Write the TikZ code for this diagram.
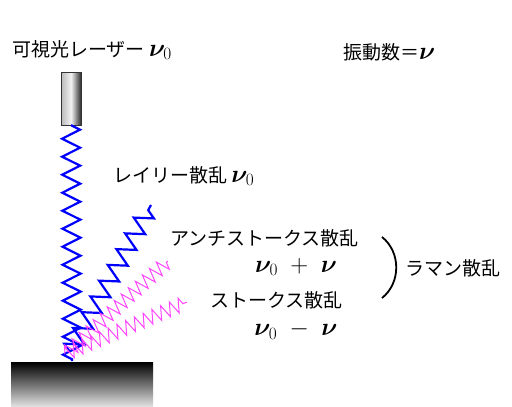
\documentclass[tikz,border=0pt]{standalone}
\usepackage{fontspec}
\usepackage{bm}
\setmainfont{Noto Sans CJK JP}
\usetikzlibrary{decorations.pathmorphing}
\definecolor{ramanpink}{RGB}{255,70,255}
\newcommand{\nufreq}[1]{{\fontsize{23}{26}\selectfont$#1$}}
\tikzset{
  txt/.style={font=\fontsize{19}{22}\selectfont,inner sep=0pt},
  bluewave/.style={blue,line width=2.2pt,decorate,
    decoration={zigzag,segment length=18pt,amplitude=9pt}},
  pinkwave/.style={ramanpink,line width=1pt,decorate,
    decoration={zigzag,segment length=9.5pt,amplitude=7pt}},
}
\begin{document}
\begin{tikzpicture}[x=1pt,y=-1pt]
        \useasboundingbox (0,0) rectangle (512,407);
        %% laser and sample
        \node[txt,anchor=west] (laser) at (12,50) {可視光レーザー \nufreq{\bm{\nu}_0}};
        \node[txt,anchor=west] (freq) at (343,52) {振動数＝\nufreq{\bm{\nu}}};
        \node[draw=gray!40!black,left color=gray!55,right color=gray!35!black,middle color=white!90!gray,
              minimum width=20pt,minimum height=53pt,inner sep=0pt] (rod) at (71,98.5) {};
        \node[top color=black,bottom color=white!90!black,minimum width=142pt,minimum height=45pt,
              inner sep=0pt,anchor=north west] (sample) at (11,362) {};
        \coordinate (hit) at (72,361);
        %% incident light and Rayleigh line
        \draw[bluewave] (rod.south) -- (hit);
        \coordinate (ray) at (151,205);
        \draw[bluewave] (70,352) -- (ray);
        %% Raman lines
        \coordinate (anti) at (168,261);
        \coordinate (stokes) at (187,302);
        \draw[pinkwave] (68,352) -- (anti);
        \draw[pinkwave] (65,354) -- (stokes);
        %% labels
        \node[txt,anchor=west] (rayl) at (113,176) {レイリー散乱 \nufreq{\bm{\nu}_0}};
        \node[txt,anchor=west] (antil) at (170,238) {アンチストークス散乱};
        \node[txt] (antif) at (296,267) {\nufreq{\bm{\nu}_0 \;+\; \bm{\nu}}};
        \node[txt,anchor=west] (stokesl) at (210,300) {ストークス散乱};
        \node[txt] (stokesf) at (296,330) {\nufreq{\bm{\nu}_0 \;-\; \bm{\nu}}};
        \draw[line width=1.8pt] (382,237) .. controls (401,252) and (401,283) .. (382,298);
        \node[txt,anchor=west] (raman) at (405,268) {ラマン散乱};
\end{tikzpicture}
\end{document}
